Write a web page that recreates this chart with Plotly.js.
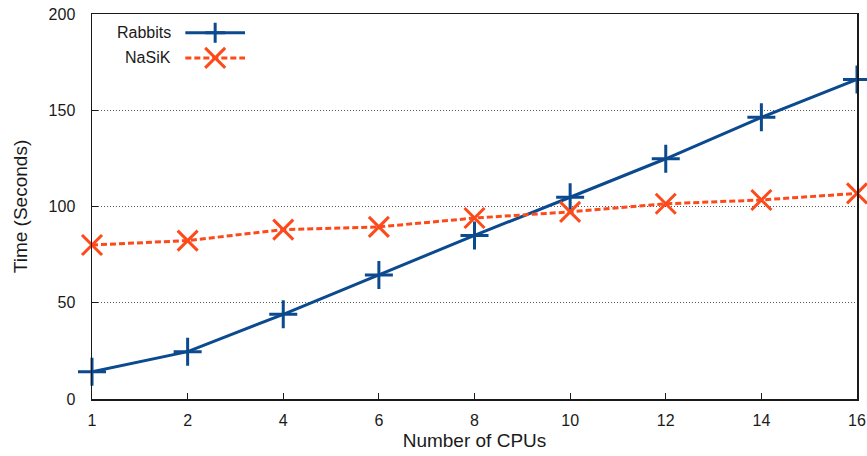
<!DOCTYPE html>
<html><head><meta charset="utf-8">
<script src="https://cdn.plot.ly/plotly-3.0.1.min.js"></script>
<style>html,body{margin:0;padding:0;background:#fff}#chart{width:867px;height:456px}</style>
</head><body><div id="chart"></div>
<script>
const cpus = ['1','2','4','6','8','10','12','14','16'];
const rabbits = [14.2, 24.6, 44, 64.4, 85, 104.8, 124.8, 146.3, 166];
const nasik = [80, 82.3, 88, 89.4, 94, 97.2, 101.4, 103.4, 106.8];
const names = ['Rabbits', 'NaSiK'];
const blue = '#0b4a8f', red = '#fc4a1a';
const font = 'Liberation Sans, Arial, sans-serif';

const traces = [
  {x: cpus, y: rabbits, name: names[0], mode: 'lines+markers', type: 'scatter', cliponaxis: false,
   line: {color: blue, width: 3},
   marker: {symbol: 'cross-thin-open', size: 20, line: {color: blue, width: 3}}},
  {x: cpus, y: nasik, name: names[1], mode: 'lines+markers', type: 'scatter', cliponaxis: false,
   line: {color: red, width: 3, dash: '6px,3px'},
   marker: {symbol: 'x-thin-open', size: 20, line: {color: red, width: 3}}}
];

const legY = [0.951, 0.886];
const legXc = 0.161;
const shapes = [
  {type: 'line', xref: 'paper', yref: 'paper', x0: 0.122, x1: 0.2, y0: legY[0], y1: legY[0], line: {color: blue, width: 3}},
  {type: 'path', xref: 'paper', yref: 'paper', xsizemode: 'pixel', ysizemode: 'pixel', xanchor: legXc, yanchor: legY[0],
   path: 'M0,-10 L0,10 M-10,0 L10,0', line: {color: blue, width: 3}},
  {type: 'line', xref: 'paper', yref: 'paper', x0: 0.122, x1: 0.2, y0: legY[1], y1: legY[1], line: {color: red, width: 3, dash: '6px,3px'}},
  {type: 'path', xref: 'paper', yref: 'paper', xsizemode: 'pixel', ysizemode: 'pixel', xanchor: legXc, yanchor: legY[1],
   path: 'M-10,-10 L10,10 M-10,10 L10,-10', line: {color: red, width: 3}}
];
const annotations = names.map((n, i) => ({
  text: n, xref: 'paper', yref: 'paper', x: 0.106, y: legY[i], xanchor: 'right', yanchor: 'middle',
  showarrow: false, font: {family: font, size: 16, color: '#1a1a1a'}
}));

const layout = {
  width: 867, height: 456,
  margin: {l: 92, r: 10, t: 14, b: 57},
  paper_bgcolor: '#fff', plot_bgcolor: '#fff',
  showlegend: false,
  font: {family: font, size: 16, color: '#1a1a1a'},
  xaxis: {
    type: 'category', range: [0, 8], showgrid: false, zeroline: false,
    showline: true, linecolor: '#1a1a1a', linewidth: 1.5, mirror: true,
    ticks: 'inside', ticklen: 6, tickcolor: '#1a1a1a', ticklabelstandoff: 6,
    title: {text: 'Number of CPUs', font: {family: font, size: 19}, standoff: 6},
    tickfont: {family: font, size: 16}
  },
  yaxis: {
    range: [0, 200], tickvals: [0, 50, 100, 150, 200], showgrid: true,
    gridcolor: '#555', griddash: '1px,2px', gridwidth: 1, zeroline: false,
    showline: true, linecolor: '#1a1a1a', linewidth: 1.5, mirror: true,
    ticks: 'inside', ticklen: 6, tickcolor: '#1a1a1a', ticklabelstandoff: 12,
    title: {text: 'Time (Seconds)', font: {family: font, size: 19}, standoff: 16},
    tickfont: {family: font, size: 16}
  },
  shapes: shapes, annotations: annotations
};
Plotly.newPlot('chart', traces, layout, {displayModeBar: false, staticPlot: true});
</script></body></html>
